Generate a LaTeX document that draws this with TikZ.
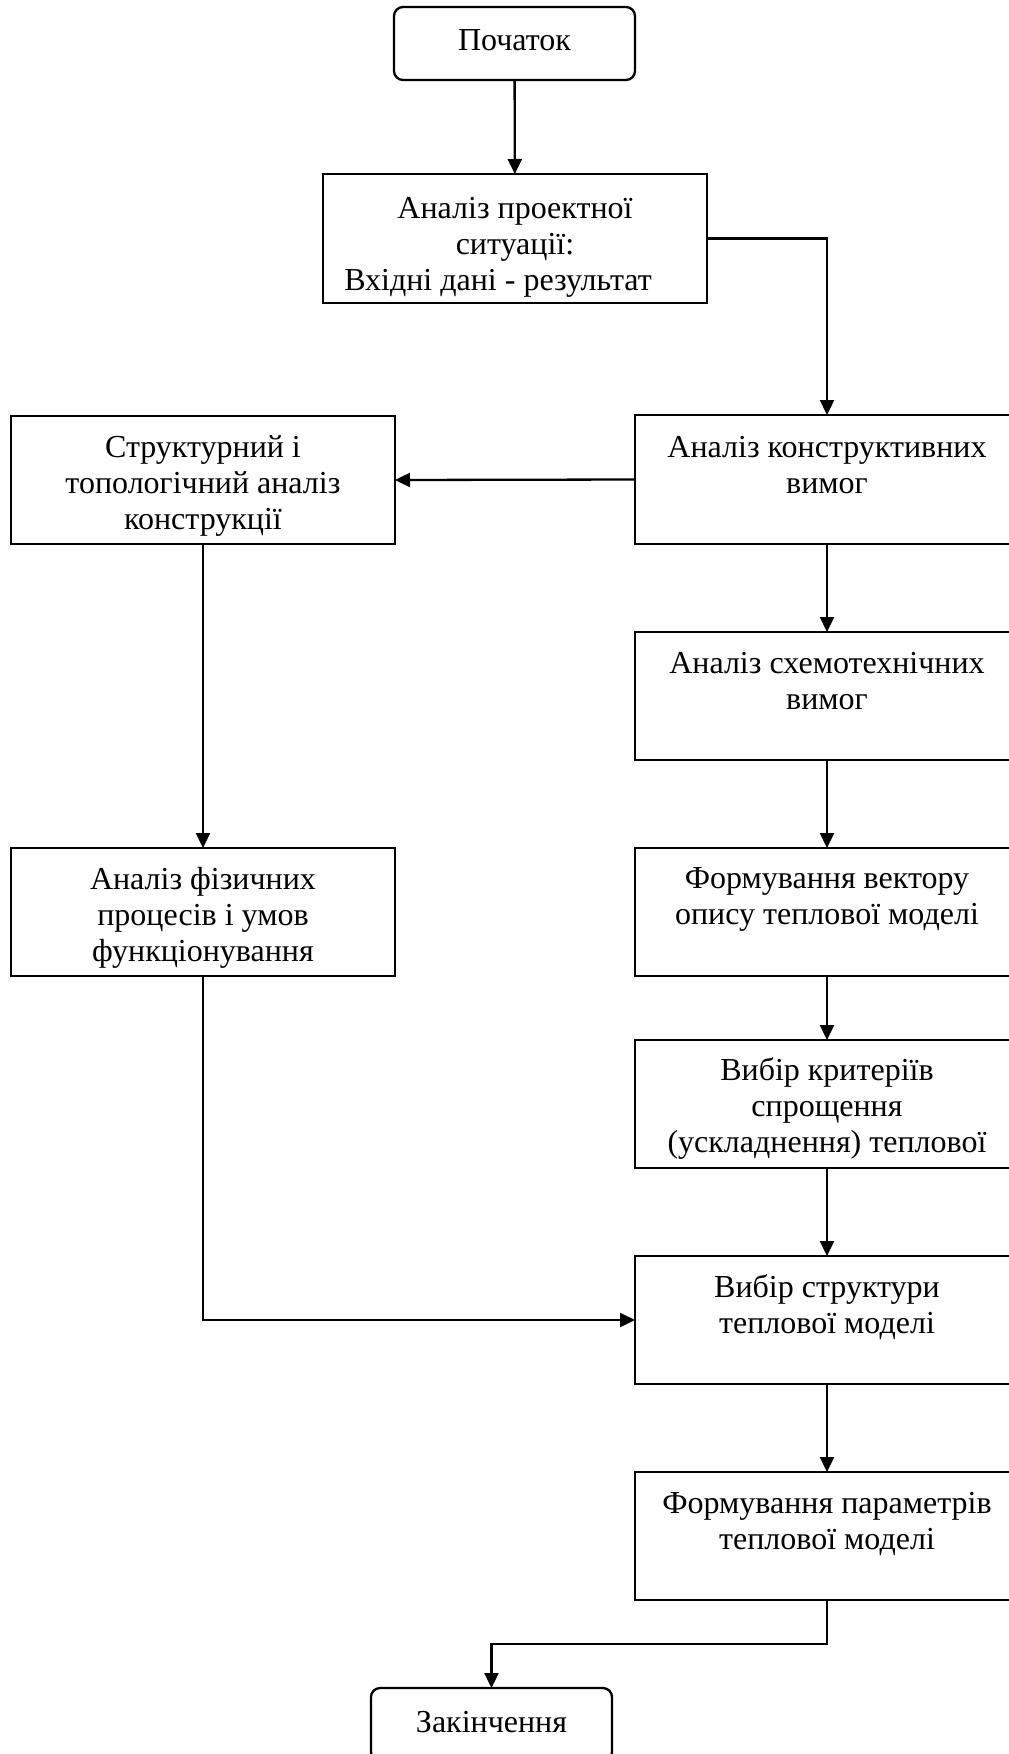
\documentclass[tikz,border=0pt]{standalone}
\usepackage{fontspec}
\setmainfont{Liberation Serif}
\usetikzlibrary{arrows.meta}
\newcommand{\bx}[4]{\parbox[c][#2][t]{#1}{\fontsize{32pt}{36pt}\selectfont\centering\rule{0pt}{#3}#4}}
\tikzset{
  blk/.style={draw, line width=2.3pt, inner sep=0pt, outer sep=0pt},
  rblk/.style={blk, rounded corners=9pt},
  arr/.style={line width=2.3pt, -{Triangle[length=15pt,width=14pt]}},
}
\begin{document}
\begin{tikzpicture}[x=1pt, y=-1pt]
\useasboundingbox (0,0) rectangle (1009,1754);
\clip (0,0) rectangle (1009,1754);
\fill[white] (0,0) rectangle (1009,1754);

\node[rblk] (start) at (514.5,43.5) {\bx{241pt}{73pt}{43pt}{Початок}};
\node[blk] (b2) at (515,238.5) {\bx{384pt}{129pt}{44pt}{Аналіз проектної\\ситуації:\\Вхідні дані - результат\hspace*{34pt}}};
\node[blk] (b3) at (827,479.5) {\bx{384pt}{129pt}{42pt}{Аналіз конструктивних\\вимог}};
\node[blk] (st) at (203,480) {\bx{384pt}{128pt}{41pt}{Структурний і\\топологічний аналіз\\конструкції}};
\node[blk] (b4) at (827,696) {\bx{384pt}{128pt}{41pt}{Аналіз схемотехнічних\\вимог}};
\node[blk] (fz) at (203,912) {\bx{384pt}{128pt}{41pt}{Аналіз фізичних\\процесів і умов\\функціонування}};
\node[blk] (b5) at (827,912) {\bx{384pt}{128pt}{40pt}{Формування вектору\\опису теплової моделі}};
\node[blk] (b6) at (827,1104) {\bx{384pt}{128pt}{40pt}{Вибір критеріїв\\спрощення\\(ускладнення) теплової}};
\node[blk] (b7) at (827,1320) {\bx{384pt}{128pt}{41pt}{Вибір структури\\теплової моделі}};
\node[blk] (b8) at (827,1536) {\bx{384pt}{128pt}{41pt}{Формування параметрів\\теплової моделі}};
\node[rblk] (end) at (491.5,1724.5) {\bx{241pt}{73pt}{44pt}{Закінчення}};

\draw[arr] (start) -- (b2);
\draw[arr] (b2.east) -| (b3.north);
\draw[arr] (b3.west) -- (st.east);
\draw[arr] (b3) -- (b4);
\draw[arr] (st) -- (fz);
\draw[arr] (b4) -- (b5);
\draw[arr] (b5) -- (b6);
\draw[arr] (b6) -- (b7);
\draw[arr] (fz.south) |- (b7.west);
\draw[arr] (b7) -- (b8);
\draw[arr] (b8.south) -- ++(0,44) -| (end.north);
\end{tikzpicture}
\end{document}
